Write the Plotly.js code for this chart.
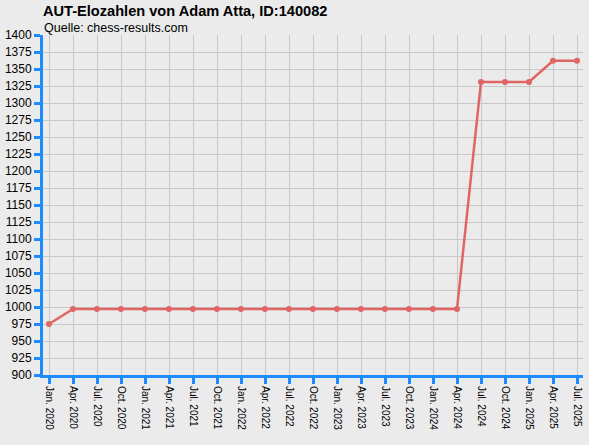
<!DOCTYPE html>
<html>
<head>
<meta charset="utf-8">
<script src="https://cdn.plot.ly/plotly-3.0.1.min.js"></script>
<style>
  body { margin: 0; background: #ebebeb; }
  #myDiv { width: 589px; height: 445px; }
</style>
</head>
<body>
<div id="myDiv"></div>
<script>
var quarters = [
  "Jan. 2020", "Apr. 2020", "Jul. 2020", "Oct. 2020",
  "Jan. 2021", "Apr. 2021", "Jul. 2021", "Oct. 2021",
  "Jan. 2022", "Apr. 2022", "Jul. 2022", "Oct. 2022",
  "Jan. 2023", "Apr. 2023", "Jul. 2023", "Oct. 2023",
  "Jan. 2024", "Apr. 2024", "Jul. 2024", "Oct. 2024",
  "Jan. 2025", "Apr. 2025", "Jul. 2025"
];
var elo = [
  975, 997, 997, 997,
  997, 997, 997, 997,
  997, 997, 997, 997,
  997, 997, 997, 997,
  997, 997, 1331, 1331,
  1331, 1362, 1362
];
var yTicks = [];
for (var v = 900; v <= 1400; v += 25) yTicks.push(v);

var blue = "#1e8cff";

var trace = {
  type: "scatter",
  mode: "lines+markers",
  x: quarters,
  y: elo,
  line: { color: "#e06666", width: 2.5 },
  marker: { color: "#e06666", size: 6 },
  hoverinfo: "x+y"
};

var layout = {
  width: 589,
  height: 445,
  margin: { l: 43, r: 6, t: 35, b: 70 },
  paper_bgcolor: "#ebebeb",
  plot_bgcolor: "#ebebeb",
  font: { family: "Liberation Sans, Arial, sans-serif", color: "#000000", size: 12 },
  showlegend: false,
  xaxis: {
    type: "category",
    range: [-0.25, 22.25],
    tickangle: 90,
    tickfont: { size: 10 },
    showgrid: true,
    gridcolor: "#c8c8c8",
    gridwidth: 1,
    showline: true,
    linecolor: blue,
    linewidth: 3,
    ticks: "outside",
    ticklen: 6,
    tickwidth: 3,
    tickcolor: blue,
    zeroline: false,
    fixedrange: true
  },
  yaxis: {
    range: [900, 1400],
    tickvals: yTicks,
    ticktext: yTicks.map(String),
    tickfont: { size: 12 },
    showgrid: true,
    gridcolor: "#c8c8c8",
    gridwidth: 1,
    showline: true,
    linecolor: blue,
    linewidth: 3,
    ticks: "outside",
    ticklen: 6,
    tickwidth: 3,
    tickcolor: blue,
    zeroline: false,
    fixedrange: true
  },
  annotations: [
    {
      text: "<b>AUT-Elozahlen von Adam Atta, ID:140082</b>",
      xref: "paper", yref: "paper",
      x: -0.003, y: 1.1,
      xanchor: "left", yanchor: "top",
      showarrow: false,
      font: { size: 14.6 }
    },
    {
      text: "Quelle: chess-results.com",
      xref: "paper", yref: "paper",
      x: -0.002, y: 1.046,
      xanchor: "left", yanchor: "top",
      showarrow: false,
      font: { size: 12.5 }
    }
  ]
};

Plotly.newPlot("myDiv", [trace], layout, { displayModeBar: false });
</script>
</body>
</html>
